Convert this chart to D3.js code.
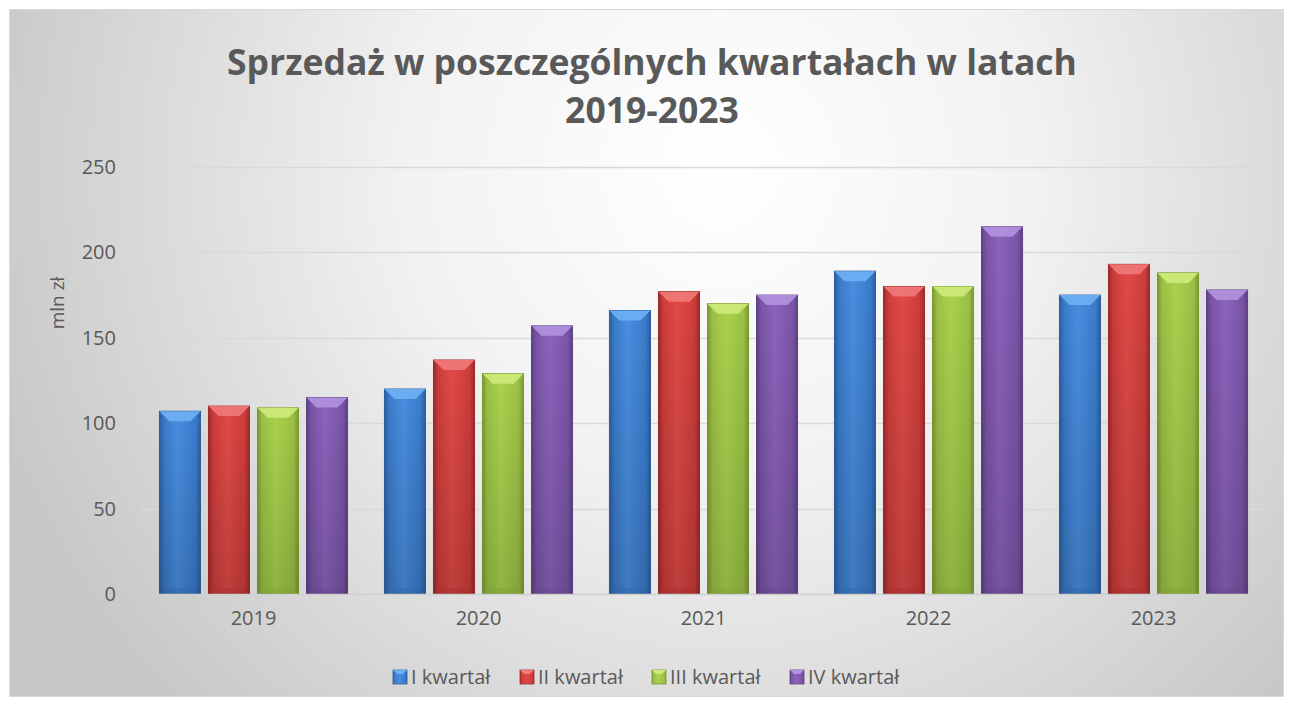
<!DOCTYPE html>
<html>
<head>
<meta charset="utf-8">
<script src="https://cdn.jsdelivr.net/npm/d3@7"></script>
<style>
  body { margin: 0; background: #fff; }
  svg text { font-family: "Open Sans", "Noto Sans", sans-serif; fill: #595959; }
</style>
</head>
<body>
<script>
var years = ["2019", "2020", "2021", "2022", "2023"];
var quarters = ["I kwartał", "II kwartał", "III kwartał", "IV kwartał"];
var q1 = [107, 120, 166, 189, 175];
var q2 = [110, 137, 177, 180, 193];
var q3 = [109, 129, 170, 180, 188];
var q4 = [115, 157, 175, 215, 178];
var yTicks = [0, 50, 100, 150, 200, 250];
var colors = [
    { light: "#4a8ee0", mid: "#3a7bcb", dark: "#2c5f9f", hi: "#6fb0f5" },
    { light: "#e04a48", mid: "#cc3d3b", dark: "#9e2a29", hi: "#f07a78" },
    { light: "#aad24e", mid: "#9bc145", dark: "#7a9a33", hi: "#cdeb7a" },
    { light: "#8d63bd", mid: "#7a55a8", dark: "#5f4185", hi: "#b392e0" }
];

var series = [q1, q2, q3, q4];
var data = years.map(function (yr, i) {
    return { year: yr, values: series.map(function (s, k) { return { q: k, v: s[i] }; }) };
});

var w = 1292, h = 706;
var plotLeft = 141, plotRight = 1266, plotTop = 167, plotBottom = 594;

var svg = d3.select("body").append("svg")
    .attr("width", w)
    .attr("height", h);

var defs = svg.append("defs");
var bg = defs.append("radialGradient")
    .attr("id", "bg")
    .attr("gradientUnits", "userSpaceOnUse")
    .attr("cx", 720).attr("cy", 170).attr("r", 780);
bg.append("stop").attr("offset", "0").attr("stop-color", "#ffffff");
bg.append("stop").attr("offset", "0.4").attr("stop-color", "#f2f2f2");
bg.append("stop").attr("offset", "1").attr("stop-color", "#c6c6c6");

colors.forEach(function (c, i) {
    var g = defs.append("linearGradient")
        .attr("id", "bar" + i)
        .attr("x1", 0).attr("y1", 0).attr("x2", 1).attr("y2", 0);
    g.append("stop").attr("offset", "0").attr("stop-color", c.dark);
    g.append("stop").attr("offset", "0.12").attr("stop-color", c.mid);
    g.append("stop").attr("offset", "0.45").attr("stop-color", c.light);
    g.append("stop").attr("offset", "0.88").attr("stop-color", c.mid);
    g.append("stop").attr("offset", "1").attr("stop-color", c.dark);
    var v = defs.append("linearGradient")
        .attr("id", "shade" + i)
        .attr("x1", 0).attr("y1", 0).attr("x2", 0).attr("y2", 1);
    v.append("stop").attr("offset", "0").attr("stop-color", "#000").attr("stop-opacity", 0);
    v.append("stop").attr("offset", "1").attr("stop-color", "#000").attr("stop-opacity", 0.15);
});

svg.append("rect")
    .attr("x", 9.5).attr("y", 9.5)
    .attr("width", 1274).attr("height", 687)
    .attr("fill", "url(#bg)")
    .attr("stroke", "#d9d9d9");

// title
svg.append("text")
    .attr("x", 652).attr("y", 75)
    .attr("text-anchor", "middle")
    .style("font-size", "35.5px").style("font-weight", "bold")
    .text("Sprzedaż w poszczególnych kwartałach w latach");
svg.append("text")
    .attr("x", 652).attr("y", 123)
    .attr("text-anchor", "middle")
    .style("font-size", "35.5px").style("font-weight", "bold")
    .text("2019-2023");

var x0 = d3.scaleBand().domain(years).range([plotLeft, plotRight]).paddingInner(0.164).paddingOuter(0.082);
var x1 = d3.scaleBand().domain(d3.range(4)).range([0, x0.bandwidth()]).paddingInner(0.163);
var y = d3.scaleLinear().domain([0, 250]).range([plotBottom, plotTop]);

// gridlines
svg.append("g")
    .selectAll("line")
    .data(yTicks.slice(1))
    .enter().append("line")
    .attr("x1", plotLeft).attr("x2", plotRight)
    .attr("y1", function (d) { return Math.round(y(d)) + 0.5; })
    .attr("y2", function (d) { return Math.round(y(d)) + 0.5; })
    .attr("stroke", "#d9d9d9").attr("stroke-width", 1.5);

var yAxis = d3.axisLeft(y).tickValues(yTicks).tickSize(0).tickPadding(0);
svg.append("g")
    .attr("transform", "translate(116,0)")
    .call(yAxis)
    .call(function (g) { g.select(".domain").remove(); })
    .selectAll("text")
    .style("font-size", "20px")
    .attr("fill", "#595959");

svg.append("text")
    .attr("transform", "translate(64,303) rotate(-90)")
    .attr("text-anchor", "middle")
    .style("font-size", "19px")
    .text("mln zł");

// bars
var groups = svg.append("g").selectAll("g")
    .data(data)
    .enter().append("g")
    .attr("transform", function (d) { return "translate(" + x0(d.year) + ",0)"; });

var bars = groups.selectAll("g")
    .data(function (d) { return d.values; })
    .enter().append("g");

bars.append("rect")
    .attr("x", function (d) { return x1(d.q); })
    .attr("y", function (d) { return y(d.v); })
    .attr("width", x1.bandwidth())
    .attr("height", function (d) { return y(0) - y(d.v); })
    .attr("fill", function (d) { return "url(#bar" + d.q + ")"; })
    .attr("stroke", function (d) { return colors[d.q].dark; })
    .attr("stroke-width", 1);

bars.append("rect")
    .attr("x", function (d) { return x1(d.q); })
    .attr("y", function (d) { return y(d.v); })
    .attr("width", x1.bandwidth())
    .attr("height", function (d) { return y(0) - y(d.v); })
    .attr("fill", function (d) { return "url(#shade" + d.q + ")"; });

// top bevel
bars.append("path")
    .attr("d", function (d) {
        var bx = x1(d.q), bw = x1.bandwidth(), by = y(d.v), b = 10;
        return "M" + bx + "," + by + "L" + (bx + bw) + "," + by +
            "L" + (bx + bw - b) + "," + (by + b) + "L" + (bx + b) + "," + (by + b) + "Z";
    })
    .attr("fill", function (d) { return colors[d.q].hi; })
    .attr("opacity", 0.9);

// bottom bevel
bars.append("path")
    .attr("d", function (d) {
        var bx = x1(d.q), bw = x1.bandwidth(), by = y(0), b = 6;
        return "M" + bx + "," + by + "L" + (bx + bw) + "," + by +
            "L" + (bx + bw - b) + "," + (by - b) + "L" + (bx + b) + "," + (by - b) + "Z";
    })
    .attr("fill", function (d) { return colors[d.q].dark; })
    .attr("opacity", 0.3);

// x axis
svg.append("line")
    .attr("x1", plotLeft).attr("x2", plotRight)
    .attr("y1", plotBottom + 0.5).attr("y2", plotBottom + 0.5)
    .attr("stroke", "#d0d0d0").attr("stroke-width", 1.5);

var xAxis = d3.axisBottom(x0).tickSize(0).tickPadding(0);
svg.append("g")
    .attr("transform", "translate(0,611)")
    .call(xAxis)
    .call(function (g) { g.select(".domain").remove(); })
    .selectAll("text")
    .style("font-size", "20px")
    .attr("fill", "#595959");

// legend
var legendX = [393, 520, 652, 790];
var legend = svg.append("g").selectAll("g")
    .data(quarters)
    .enter().append("g")
    .attr("transform", function (d, i) { return "translate(" + legendX[i] + ",670)"; });

legend.append("rect")
    .attr("width", 14).attr("height", 14)
    .attr("fill", function (d, i) { return "url(#bar" + i + ")"; })
    .attr("stroke", function (d, i) { return colors[i].dark; })
    .attr("stroke-width", 0.8);
legend.append("path")
    .attr("d", "M0,0L14,0L10,4L4,4Z")
    .attr("fill", function (d, i) { return colors[i].hi; });
legend.append("text")
    .attr("x", 18).attr("y", 14)
    .style("font-size", "20px")
    .text(function (d) { return d; });
</script>
</body>
</html>
